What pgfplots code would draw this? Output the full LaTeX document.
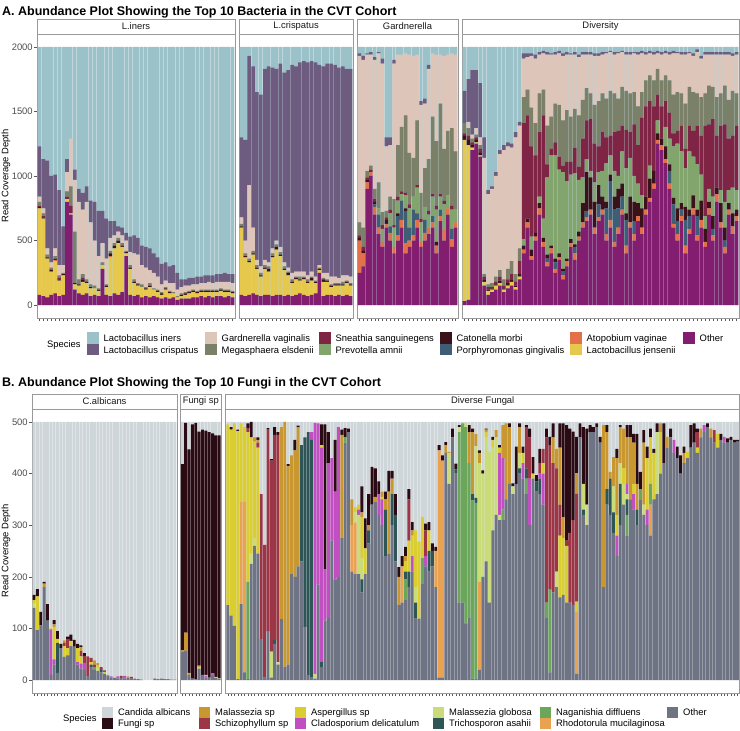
\documentclass[border=0pt]{standalone}
\usepackage{fontspec}
\setmainfont{Liberation Sans}
\usepackage{pgfplots}
\usepackage{pgfplotstable}
\pgfplotsset{compat=1.18}
% bacteria colours
\definecolor{bLi}{HTML}{9CC2C9}\definecolor{bCr}{HTML}{6E5C80}\definecolor{bG}{HTML}{DDC5BA}
\definecolor{bM}{HTML}{7B8068}\definecolor{bS}{HTML}{7F2445}\definecolor{bPr}{HTML}{82A56E}
\definecolor{bCa}{HTML}{3B1219}\definecolor{bP}{HTML}{3F5E75}\definecolor{bA}{HTML}{E2714B}
\definecolor{bJ}{HTML}{E6C84C}\definecolor{bO}{HTML}{821D6F}
% fungi colours
\definecolor{fC}{HTML}{CFD6D9}\definecolor{fF}{HTML}{2B0B13}\definecolor{fM}{HTML}{C9972F}
\definecolor{fS}{HTML}{9C3646}\definecolor{fA}{HTML}{DACD30}\definecolor{fCl}{HTML}{C24FC2}
\definecolor{fG}{HTML}{CADC7A}\definecolor{fT}{HTML}{2F5656}\definecolor{fN}{HTML}{6BA65B}
\definecolor{fR}{HTML}{E9A252}\definecolor{fO}{HTML}{6E7484}
\newcommand\sz{\fontsize{9.4}{11.3}\selectfont}

% ---------------- Panel A data: O=Other J=L.jensenii A=Atopobium P=Porphyromonas Ca=Catonella Pr=Prevotella S=Sneathia M=Megasphaera G=Gardnerella Cr=L.crispatus T=total
\pgfplotstableread{
O J A P Ca Pr S M G Cr T
80 670 0 0 10 0 10 30 40 390 2000
70 600 0 0 10 0 10 20 40 380 2000
60 300 0 0 10 0 0 20 50 680 2000
80 180 0 0 15 0 0 15 40 670 2000
90 250 10 0 10 0 0 20 60 570 2000
70 120 0 0 10 0 10 20 80 580 2000
80 150 0 0 10 0 0 10 60 300 2000
800 20 0 0 0 0 20 40 150 100 2000
700 10 0 0 0 0 60 150 370 0 2000
120 40 0 0 10 0 0 400 400 80 2000
90 60 0 0 10 0 0 40 600 100 2000
80 100 0 0 20 0 10 30 500 130 2000
90 80 0 0 10 0 0 20 600 120 2000
70 60 0 0 10 0 0 20 480 170 2000
80 50 0 0 0 0 0 20 350 300 2000
70 40 0 0 10 0 0 10 250 350 2000
280 30 0 0 0 0 0 20 150 250 2000
80 60 0 0 10 0 0 10 200 310 2000
70 300 10 0 20 0 0 20 100 130 2000
90 350 0 0 20 0 0 20 60 110 2000
80 400 0 0 20 0 0 20 50 40 2000
100 350 0 0 10 0 0 20 60 60 2000
380 20 0 0 10 0 0 10 80 60 2000
80 200 0 0 10 0 0 20 100 120 2000
70 100 0 0 10 0 0 20 200 140 2000
80 70 0 0 10 0 0 10 220 130 2000
60 80 0 0 0 0 0 20 150 150 2000
70 50 0 0 10 0 0 10 150 160 2000
60 80 0 0 10 0 0 20 100 170 2000
70 50 0 0 0 0 0 10 120 150 2000
60 40 0 0 10 0 0 10 100 150 2000
50 30 0 0 10 0 0 10 60 160 2000
60 60 0 0 10 0 0 10 50 140 2000
50 40 0 0 10 0 0 10 60 130 2000
60 30 0 0 0 0 0 10 70 140 2000
40 20 0 0 0 0 0 10 50 130 2000
50 20 0 0 10 0 0 10 50 60 2000
50 30 0 0 10 0 0 10 50 50 2000
50 40 0 0 10 0 0 10 40 60 2000
60 40 0 0 10 0 0 10 40 50 2000
60 30 0 0 10 0 0 10 50 60 2000
70 30 0 0 10 0 0 10 50 50 2000
60 40 0 0 10 0 0 10 50 60 2000
70 30 0 0 10 0 0 10 60 50 2000
60 40 0 0 10 0 0 10 50 60 2000
70 30 0 0 10 0 0 10 60 60 2000
70 40 0 0 10 0 0 10 50 60 2000
60 40 0 0 10 0 0 10 60 70 2000
70 30 0 0 10 0 0 10 60 60 2000
60 30 0 0 10 0 0 10 60 70 2000
}\tLi
\pgfplotstableread{
O J A P Ca Pr S M G Cr T
80 520 0 0 10 0 0 20 50 620 2000
70 300 0 0 10 0 0 20 100 780 2000
80 250 0 0 10 0 0 20 570 1000 2000
90 300 0 0 10 0 0 20 180 1250 2000
80 200 0 0 10 0 0 20 40 1300 2000
70 150 0 0 10 0 0 20 50 1330 2000
80 200 0 0 10 0 0 20 40 1480 2000
80 180 0 0 20 0 0 20 30 1520 2000
70 300 0 0 10 0 0 20 40 1400 2000
80 350 0 0 20 0 0 20 30 1330 2000
80 300 0 0 10 0 0 20 40 1420 2000
70 200 0 0 10 0 0 20 30 1470 2000
80 150 0 0 20 0 0 10 30 1530 2000
70 100 0 0 10 0 0 20 50 1610 2000
80 120 0 0 10 0 0 10 40 1590 2000
90 100 0 0 10 0 0 20 40 1620 2000
80 120 0 0 10 0 0 10 40 1630 2000
70 100 0 0 10 0 0 20 30 1650 2000
80 110 0 0 20 0 0 10 40 1630 2000
90 80 0 0 10 0 0 10 30 1660 2000
250 20 0 0 10 0 0 10 20 1550 2000
70 110 0 0 20 0 0 10 40 1600 2000
80 100 0 0 10 0 0 10 50 1620 2000
80 60 0 0 10 0 0 10 60 1650 2000
70 80 0 0 10 0 0 10 50 1640 2000
80 70 0 0 10 0 0 10 40 1630 2000
70 80 0 0 10 0 0 20 50 1620 2000
80 90 0 0 10 0 0 10 40 1600 2000
70 80 0 0 10 0 0 10 50 1610 2000
}\tCr
\pgfplotstableread{
O J A P Ca Pr S M G Cr T
250 0 250 0 20 0 20 100 1290 20 2000
300 0 100 0 20 0 30 150 1300 30 2000
900 0 50 0 20 0 20 50 900 10 2000
1000 0 30 0 0 0 20 30 860 20 2000
700 0 60 20 20 0 20 80 1000 20 2000
550 0 50 100 0 50 0 200 1000 10 2000
450 0 40 0 0 100 30 100 1150 40 2000
600 0 30 0 30 0 20 50 500 70 2000
500 0 60 50 0 100 30 100 400 60 2000
400 0 50 0 0 150 20 200 1050 30 2000
500 0 40 150 20 100 30 400 700 0 2000
600 0 60 150 0 50 20 500 560 0 2000
400 0 80 250 20 100 20 600 480 0 2000
450 0 50 100 0 150 30 400 760 0 2000
500 0 40 200 0 100 0 300 790 0 2000
600 0 60 50 0 200 20 500 510 0 2000
450 0 40 0 0 150 30 200 680 30 2000
500 0 60 100 0 100 0 300 500 40 2000
550 0 50 0 0 100 30 400 700 30 2000
600 0 40 50 0 150 20 600 490 0 2000
400 0 60 0 30 250 30 500 670 0 2000
650 0 40 50 0 100 20 700 380 0 2000
500 0 80 0 0 200 30 400 720 0 2000
700 0 50 0 0 100 0 500 590 0 2000
450 0 60 80 0 150 30 600 580 0 2000
600 0 40 0 0 100 0 450 750 0 2000
}\tGa
\pgfplotstableread{
O J A P Ca Pr S M G Cr T
30 1250 0 0 30 0 20 80 0 250 2000
40 1200 0 0 40 0 30 60 50 330 2000
1200 20 0 0 20 0 20 30 30 500 2000
1250 10 0 0 20 0 20 20 50 450 2000
1150 10 0 0 20 0 30 30 60 420 2000
150 30 0 0 20 0 20 20 900 160 2000
80 30 0 0 10 0 20 20 700 30 2000
100 20 0 0 10 0 10 30 730 20 2000
120 30 0 0 10 0 20 40 780 30 2000
150 20 0 0 20 0 30 50 900 30 2000
100 20 0 0 10 0 20 50 1000 40 2000
130 20 0 0 20 0 30 80 950 30 2000
150 30 0 0 20 0 40 100 880 30 2000
120 20 0 0 10 0 30 60 1060 40 2000
200 20 0 0 20 0 100 100 950 30 2000
400 0 30 0 30 50 900 200 300 40 2000
600 0 40 0 30 0 800 200 250 30 2000
350 0 30 0 50 100 700 300 400 20 2000
500 0 30 0 30 0 600 250 500 30 2000
700 0 50 0 40 50 500 300 300 20 2000
450 0 40 0 30 150 800 200 280 20 2000
300 0 30 30 30 600 100 300 550 20 2000
400 0 40 0 20 700 50 250 480 10 2000
250 0 30 50 30 800 100 300 380 20 2000
350 0 20 0 30 650 100 400 400 20 2000
200 0 30 30 20 750 50 350 500 20 2000
300 0 40 0 20 600 150 400 430 20 2000
450 0 30 0 30 500 100 350 480 10 2000
350 0 50 50 20 550 200 300 420 20 2000
500 0 30 0 40 400 100 400 450 20 2000
600 0 40 0 150 200 300 300 350 20 2000
650 0 30 50 300 100 300 250 260 20 2000
700 0 40 0 250 50 400 200 300 20 2000
550 0 50 0 200 150 300 300 380 20 2000
650 0 30 100 150 100 200 350 350 20 2000
700 0 40 0 100 200 300 300 300 20 2000
500 0 50 200 50 300 200 300 350 10 2000
600 0 60 300 50 150 150 350 300 10 2000
450 0 40 250 100 200 300 300 300 20 2000
550 0 50 150 150 100 350 250 350 10 2000
700 0 40 100 100 250 200 300 270 10 2000
400 0 60 200 50 350 300 300 280 20 2000
600 0 40 0 200 300 200 300 300 20 2000
500 0 50 100 150 200 400 250 300 10 2000
650 0 40 0 100 150 300 300 400 20 2000
550 0 50 0 150 100 600 200 300 20 2000
700 0 40 0 100 0 700 200 200 20 2000
800 0 30 0 150 100 500 200 170 20 2000
900 0 40 0 100 0 500 200 200 20 2000
1250 0 30 0 50 100 200 200 120 20 2000
1200 0 40 0 50 0 250 200 200 20 2000
1100 0 30 0 100 150 200 200 170 20 2000
900 0 40 100 50 200 200 250 200 20 2000
600 0 30 150 50 400 100 300 320 20 2000
500 0 50 100 100 500 100 300 300 10 2000
650 0 40 50 50 400 200 250 300 20 2000
400 0 60 200 100 300 150 350 380 20 2000
550 0 40 100 50 450 200 300 260 10 2000
700 0 50 0 100 300 200 300 280 20 2000
500 0 40 150 50 350 300 250 320 20 2000
600 0 60 0 150 200 300 300 300 20 2000
450 0 40 0 100 100 700 250 300 20 2000
700 0 50 0 50 100 500 300 240 20 2000
500 0 40 50 100 150 600 250 250 20 2000
800 0 60 0 50 0 400 300 330 20 2000
600 0 40 0 150 100 500 250 300 20 2000
400 0 50 50 100 200 600 300 240 20 2000
700 0 40 0 50 100 400 300 350 20 2000
550 0 60 0 100 200 400 350 270 20 2000
650 0 40 0 50 150 500 250 300 20 2000
}\tDi

% ---------------- Panel B data: O=Other R=Rhodotorula N=Naganishia T=Trichosporon G=M.globosa Cl=Cladosporium A=Aspergillus S=Schizophyllum M=Malassezia sp F=Fungi sp C=total
\pgfplotstableread{
O R N T G Cl A S M F C
140 0 0 0 8 0 7 0 0 10 500
97 0 0 0 0 0 65 0 0 14 500
106 0 0 0 0 0 0 0 0 26 500
180 0 0 0 0 0 0 0 7 3 500
115 0 0 0 0 0 0 0 0 32 500
10 0 0 0 0 88 2 0 0 0 500
30 0 0 0 0 10 63 0 5 8 500
14 0 0 58 0 0 8 0 0 15 500
62 0 0 0 0 0 0 0 0 8 500
45 0 0 0 0 0 21 6 5 0 500
48 0 0 0 0 0 14 18 0 4 500
66 0 0 0 0 0 10 0 0 12 500
65 0 0 0 0 0 0 0 0 13 500
30 0 0 0 0 5 27 0 0 8 500
22 0 0 0 0 10 14 10 8 3 500
20 0 0 0 0 12 0 15 0 5 500
8 0 0 0 0 0 0 38 0 0 500
25 0 0 5 0 0 5 8 0 0 500
20 0 5 0 0 0 0 5 8 0 500
18 0 0 0 4 0 6 0 5 0 500
15 0 0 5 0 0 0 5 0 0 500
12 0 0 0 0 0 4 3 0 0 500
8 0 0 0 0 0 0 0 2 0 500
5 0 0 0 0 2 0 0 0 0 500
4 0 0 0 0 0 2 0 0 0 500
3 0 0 0 0 4 0 0 0 0 500
4 0 0 0 0 0 0 4 0 0 500
3 0 0 0 0 5 0 0 0 0 500
4 0 0 0 0 0 0 0 3 0 500
3 0 0 0 0 0 0 3 0 0 500
3 0 0 0 0 0 0 0 0 0 500
2 0 0 0 0 0 0 0 0 0 500
1 0 0 0 0 0 0 0 0 0 500
0 0 0 0 0 0 0 0 0 0 500
0 0 0 0 0 0 0 0 0 0 500
0 0 0 0 0 0 0 0 0 0 500
2 0 0 0 0 0 0 1 0 0 500
2 0 0 0 0 0 0 0 0 0 500
3 0 0 0 0 0 0 0 0 0 500
2 0 0 0 0 0 0 0 0 0 500
2 0 0 0 0 0 0 0 0 0 500
1 0 0 0 0 0 0 0 0 0 500
1 0 0 0 0 0 0 0 0 0 500
}\tCal
\pgfplotstableread{
O R N T G Cl A S M F C
55 0 0 0 0 0 0 0 3 360 500
57 0 0 0 0 0 0 0 35 406 500
10 0 0 0 0 0 0 0 4 433 500
3 0 0 0 0 0 0 0 0 492 500
2 0 0 0 0 0 0 0 0 496 500
22 0 0 0 0 0 3 0 3 453 500
10 0 0 0 0 0 0 0 0 475 500
5 0 0 0 0 3 2 0 0 473 500
5 0 0 0 0 0 0 0 0 475 500
8 0 0 0 0 5 0 0 0 465 500
4 0 0 0 0 0 2 0 0 468 500
3 0 0 0 0 0 1 0 0 470 500
}\tFs
\pgfplotstableread{
O R N T G Cl A S M F C
145 0 0 0 0 0 350 0 0 0 500
125 0 0 0 0 0 360 0 0 5 500
105 0 0 0 0 0 392 0 0 0 500
2 0 0 0 0 0 480 0 0 3 500
147 198 0 0 0 0 152 0 0 0 500
15 330 0 0 0 0 145 0 0 0 500
2 0 188 0 0 0 290 8 0 9 500
225 0 0 0 20 0 225 0 0 30 500
260 0 0 0 15 0 187 0 8 0 500
245 0 0 0 0 0 205 10 5 5 500
80 0 0 0 0 0 0 280 0 0 500
5 0 0 0 0 0 0 257 0 0 500
95 0 0 0 0 0 0 390 0 3 500
5 0 0 0 50 0 0 370 0 3 500
70 0 0 8 0 0 0 397 0 15 500
30 0 0 0 5 0 0 440 0 5 500
118 0 0 0 0 0 0 0 372 0 500
25 0 0 0 0 0 0 0 475 0 500
30 0 0 0 0 0 0 0 385 3 500
205 0 0 0 0 0 0 0 230 0 500
200 0 0 0 0 0 0 0 245 20 500
220 0 0 0 0 0 0 0 270 3 500
230 0 0 225 0 0 0 0 0 0 500
103 0 0 367 0 0 0 0 0 0 500
10 0 0 470 0 0 0 0 0 0 500
5 0 0 460 0 15 0 0 0 0 500
3 0 0 0 9 486 0 0 0 0 500
185 0 0 0 0 312 0 0 0 0 500
25 0 0 10 0 415 5 0 0 40 500
115 0 0 0 0 100 0 0 0 280 500
120 0 0 0 0 300 0 0 0 60 500
270 0 0 0 0 160 0 0 0 0 500
195 0 0 0 0 170 0 0 0 100 500
200 0 0 0 0 290 0 0 0 0 500
275 0 0 0 0 0 0 0 200 10 500
460 0 10 0 0 0 0 0 0 18 500
480 0 0 0 0 0 0 0 0 7 500
210 90 0 0 0 0 0 0 50 0 500
205 100 0 0 20 0 10 0 0 0 500
205 0 0 0 115 10 10 0 0 0 500
170 0 0 25 40 0 80 0 10 50 500
205 0 0 0 0 0 50 0 0 58 500
265 0 0 25 0 0 0 0 10 60 500
340 0 0 0 0 0 0 0 0 73 500
345 0 0 0 0 0 0 0 10 55 500
320 0 0 0 0 40 0 0 0 25 500
300 0 0 0 0 50 5 0 10 0 500
240 0 0 90 0 0 0 0 20 15 500
245 0 0 0 0 0 0 0 120 40 500
300 0 0 60 0 0 0 0 30 15 500
230 0 0 90 0 0 0 0 0 40 500
145 0 0 0 0 0 0 0 55 19 500
150 70 0 0 0 0 0 0 0 20 500
155 0 40 15 0 0 20 0 10 18 500
180 0 0 30 0 0 60 80 0 20 500
210 0 0 0 0 30 40 0 10 16 500
119 0 0 31 30 0 110 0 0 0 500
119 0 0 0 0 0 149 0 0 0 500
186 0 50 0 0 0 80 0 0 0 500
220 0 0 0 0 20 0 50 0 13 500
210 0 0 40 0 0 40 0 0 16 500
220 0 0 30 0 0 0 0 0 15 500
180 70 0 0 0 0 0 0 0 8 500
5 440 0 0 0 0 0 0 0 10 500
5 420 0 0 0 0 0 0 0 10 500
440 0 0 0 0 0 0 0 15 6 500
380 0 0 0 60 0 0 0 2 0 500
470 0 0 0 0 0 0 0 0 17 500
400 0 0 8 0 0 0 0 0 11 500
150 0 330 0 10 0 0 0 0 4 500
150 0 347 0 0 0 0 0 0 0 500
110 0 380 0 7 0 0 0 0 0 500
120 0 300 0 0 0 0 0 60 14 500
3 0 345 12 0 0 0 0 120 7 500
3 0 340 10 100 0 0 0 24 0 500
20 170 0 0 230 0 0 0 20 5 500
200 0 0 0 200 0 0 0 0 6 500
230 0 0 0 240 0 10 0 5 2 500
150 0 0 0 292 0 0 0 0 0 500
290 0 0 0 160 0 15 0 0 6 500
320 0 0 0 150 0 0 0 14 0 500
310 0 0 0 10 120 10 0 0 5 500
310 0 20 0 0 100 0 0 64 0 500
350 0 0 0 0 0 0 0 147 0 500
380 0 0 0 0 0 0 0 110 7 500
360 0 0 0 15 0 0 0 0 6 500
380 0 0 0 0 0 0 0 0 72 500
400 0 0 10 30 0 0 0 50 7 500
390 0 0 0 0 30 20 0 0 12 500
360 0 30 20 0 0 0 80 0 4 500
300 0 0 0 0 90 0 80 0 17 500
390 0 0 0 0 0 10 0 0 32 500
365 0 0 20 0 0 0 0 0 12 500
360 0 0 30 0 10 0 20 0 28 500
340 0 0 0 0 60 20 28 0 0 500
120 0 30 0 0 0 0 320 0 17 500
15 0 160 0 0 0 0 280 0 16 500
170 0 0 0 0 0 0 250 50 27 500
180 0 0 0 30 0 0 200 38 0 500
160 0 0 0 0 0 120 60 110 47 500
165 0 0 0 0 0 110 0 40 182 500
150 0 0 0 0 0 110 10 0 224 500
150 0 0 0 0 0 0 135 0 202 500
145 0 0 0 0 0 0 165 0 171 500
12 120 0 0 0 0 20 209 40 70 500
470 0 0 0 0 0 0 0 0 27 500
320 0 0 10 50 0 0 0 0 110 500
300 0 0 0 40 0 0 0 0 147 500
480 0 0 0 0 0 0 0 0 14 500
480 0 0 0 0 0 0 0 0 10 500
490 0 0 0 0 0 0 0 0 7 500
460 0 0 0 0 0 0 0 0 11 500
180 0 0 0 0 0 0 0 314 0 500
340 0 0 30 0 0 0 0 110 14 500
320 0 0 70 0 0 0 0 13 0 500
285 0 0 40 50 0 0 0 57 0 500
240 0 0 0 0 40 40 0 110 18 500
300 0 0 80 40 0 0 0 70 4 500
340 0 0 0 40 0 30 0 77 0 500
280 0 40 30 10 20 0 0 90 24 500
350 0 0 0 0 0 0 0 120 24 500
330 0 0 0 0 30 20 0 80 17 500
300 0 0 30 0 0 0 0 50 97 500
350 0 20 0 0 0 0 0 0 33 500
320 0 0 0 20 0 0 0 120 24 500
300 0 0 0 0 30 100 0 0 22 500
280 60 40 0 0 0 90 0 0 17 500
350 0 0 0 0 0 90 0 0 8 500
360 0 0 0 120 0 0 0 0 17 500
400 0 0 0 0 0 80 0 17 0 500
420 0 0 0 0 0 0 0 0 77 500
450 0 0 0 0 0 0 0 21 0 500
470 0 0 0 0 0 0 0 0 17 500
440 0 0 0 0 25 0 0 0 0 500
430 0 0 0 0 0 0 0 0 22 500
400 0 0 0 0 0 0 0 0 35 500
420 0 0 0 0 0 0 0 20 12 500
430 0 0 0 0 0 12 0 0 0 500
450 0 0 0 0 0 0 0 0 44 500
460 0 0 0 0 0 0 0 0 37 500
440 0 0 0 0 0 10 30 0 7 500
470 0 0 0 0 0 0 0 17 0 500
480 0 0 0 0 14 0 0 0 0 500
490 0 0 0 0 0 0 0 0 7 500
470 0 0 0 0 0 0 0 17 0 500
460 0 0 0 0 0 0 24 0 0 500
450 0 0 0 0 0 27 0 0 0 500
465 0 0 0 0 0 0 0 0 12 500
460 0 0 0 0 11 0 0 0 0 500
460 0 0 0 0 0 0 0 0 8 500
465 0 0 0 0 0 0 0 0 6 500
460 0 0 0 0 0 0 0 0 5 500
462 0 0 0 0 0 0 0 0 3 500
}\tDf

\pgfplotsset{
  facetbase/.style={scale only axis, anchor=south west, height=284pt, xmin=0.4,
    enlargelimits=false, axis line style={black!40, line width=0.5pt},
    tick style={black!65, line width=0.4pt}, major tick length=2.6pt, tick align=outside,
    xtick pos=bottom, ytick pos=left, xticklabels={}, ytick=\empty,
    yticklabel style={font=\sz, text=black!70, inner xsep=1.5pt},
    /pgf/number format/assume math mode=true, /pgf/number format/1000 sep={}},
  facetstack/.style={scale only axis, anchor=south west, height=284pt, xmin=0.4,
    enlargelimits=false, hide axis, ybar stacked, bar width=0.9},
  bp/.style={draw=none, fill=#1},
}
\newcommand\facetA[6]{%
 \begin{axis}[facetbase, at={(#1pt,413pt)}, width=#2pt, xmax=#3+0.6, ymin=-100, ymax=2100, xtick={1,...,#3}, #5]
  \addplot[ybar, bar width=0.9, draw=none, fill=bLi] table[x expr=\coordindex+1, y=T]{#4};
 \end{axis}
 \begin{axis}[facetstack, at={(#1pt,413pt)}, width=#2pt, xmax=#3+0.6, ymin=-100, ymax=2100]
  \addplot[bp=bO] table[x expr=\coordindex+1, y=O]{#4};
  \addplot[bp=bJ] table[x expr=\coordindex+1, y=J]{#4};
  \addplot[bp=bA] table[x expr=\coordindex+1, y=A]{#4};
  \addplot[bp=bP] table[x expr=\coordindex+1, y=P]{#4};
  \addplot[bp=bCa] table[x expr=\coordindex+1, y=Ca]{#4};
  \addplot[bp=bPr] table[x expr=\coordindex+1, y=Pr]{#4};
  \addplot[bp=bS] table[x expr=\coordindex+1, y=S]{#4};
  \addplot[bp=bM] table[x expr=\coordindex+1, y=M]{#4};
  \addplot[bp=bG] table[x expr=\coordindex+1, y=G]{#4};
  \addplot[bp=bCr] table[x expr=\coordindex+1, y=Cr]{#4};
 \end{axis}
 \draw[black!40, fill=white, line width=0.5pt] (#1pt,697pt) rectangle ({#1pt+#2pt},712pt);
 \node[font=\sz, text=black!90] at ({#1pt+0.5*#2pt},704.5pt) {#6};
}
\newcommand\facetB[6]{%
 \begin{axis}[facetbase, at={(#1pt,38pt)}, width=#2pt, xmax=#3+0.6, ymin=-25, ymax=525, xtick={1,...,#3}, #5]
  \addplot[ybar, bar width=0.86, draw=none, fill=fC] table[x expr=\coordindex+1, y=C]{#4};
 \end{axis}
 \begin{axis}[facetstack, bar width=0.86, at={(#1pt,38pt)}, width=#2pt, xmax=#3+0.6, ymin=-25, ymax=525]
  \addplot[bp=fO] table[x expr=\coordindex+1, y=O]{#4};
  \addplot[bp=fR] table[x expr=\coordindex+1, y=R]{#4};
  \addplot[bp=fN] table[x expr=\coordindex+1, y=N]{#4};
  \addplot[bp=fT] table[x expr=\coordindex+1, y=T]{#4};
  \addplot[bp=fG] table[x expr=\coordindex+1, y=G]{#4};
  \addplot[bp=fCl] table[x expr=\coordindex+1, y=Cl]{#4};
  \addplot[bp=fA] table[x expr=\coordindex+1, y=A]{#4};
  \addplot[bp=fS] table[x expr=\coordindex+1, y=S]{#4};
  \addplot[bp=fM] table[x expr=\coordindex+1, y=M]{#4};
  \addplot[bp=fF] table[x expr=\coordindex+1, y=F]{#4};
 \end{axis}
 \draw[black!40, fill=white, line width=0.5pt] (#1pt,322pt) rectangle ({#1pt+#2pt},337pt);
 \node[font=\sz, text=black!90] at ({#1pt+0.5*#2pt},329.5pt) {#6};
}
\newcommand\lkey[5]{% x, ybottom, size, colour, text
 \fill[#4] (#1pt,#2pt) rectangle ({#1pt+#3pt},{#2pt+#3pt});
 \node[anchor=base west, inner sep=0pt, font=\sz] at ({#1pt+#3pt+5pt},{#2pt+0.5*#3pt-3.3pt}) {#5};
}

\begin{document}
\begin{tikzpicture}
\path[use as bounding box] (0pt,0pt) rectangle (740pt,731pt);
% ---------------- Panel A
\node[anchor=base west, inner sep=0pt, font=\bfseries\fontsize{12.5}{14}\selectfont] at (2pt,715.5pt) {A. Abundance Plot Showing the Top 10 Bacteria in the CVT Cohort};
\facetA{37}{198}{50}{\tLi}{ytick={0,500,1000,1500,2000}}{L.iners}
\facetA{239}{114}{29}{\tCr}{}{L.crispatus}
\facetA{357}{101}{26}{\tGa}{}{Gardnerella}
\facetA{462}{277}{70}{\tDi}{}{Diversity}
\node[rotate=90, font=\sz] at (6pt,555pt) {Read Coverage Depth};
% legend A
\node[anchor=base west, inner sep=0pt, font=\sz] at (47pt,383.8pt) {Species};
\lkey{87}{387}{11.5}{bLi}{Lactobacillus iners}
\lkey{87}{375.5}{11.5}{bCr}{Lactobacillus crispatus}
\lkey{205}{387}{11.5}{bG}{Gardnerella vaginalis}
\lkey{205}{375.5}{11.5}{bM}{Megasphaera elsdenii}
\lkey{319}{387}{11.5}{bS}{Sneathia sanguinegens}
\lkey{319}{375.5}{11.5}{bPr}{Prevotella amnii}
\lkey{440}{387}{11.5}{bCa}{Catonella morbi}
\lkey{440}{375.5}{11.5}{bP}{Porphyromonas gingivalis}
\lkey{570}{387}{11.5}{bA}{Atopobium vaginae}
\lkey{570}{375.5}{11.5}{bJ}{Lactobacillus jensenii}
\lkey{683}{387}{11.5}{bO}{Other}
% ---------------- Panel B
\node[anchor=base west, inner sep=0pt, font=\bfseries\fontsize{12.5}{14}\selectfont] at (2pt,344pt) {B. Abundance Plot Showing the Top 10 Fungi in the CVT Cohort};
\facetB{32}{145}{43}{\tCal}{ytick={0,100,200,300,400,500}}{C.albicans}
\facetB{180.3}{41}{12}{\tFs}{}{Fungi sp}
\facetB{225.7}{514}{153}{\tDf}{}{Diverse Fungal}
\node[rotate=90, font=\sz] at (6pt,180pt) {Read Coverage Depth};
% legend B
\node[anchor=base west, inner sep=0pt, font=\sz] at (63pt,9.7pt) {Species};
\lkey{102}{13}{11}{fC}{Candida albicans}
\lkey{102}{2}{11}{fF}{Fungi sp}
\lkey{199}{13}{11}{fM}{Malassezia sp}
\lkey{199}{2}{11}{fS}{Schizophyllum sp}
\lkey{295}{13}{11}{fA}{Aspergillus sp}
\lkey{295}{2}{11}{fCl}{Cladosporium delicatulum}
\lkey{433}{13}{11}{fG}{Malassezia globosa}
\lkey{433}{2}{11}{fT}{Trichosporon asahii}
\lkey{540}{13}{11}{fN}{Naganishia diffluens}
\lkey{540}{2}{11}{fR}{Rhodotorula mucilaginosa}
\lkey{667}{13}{11}{fO}{Other}
\end{tikzpicture}
\end{document}
